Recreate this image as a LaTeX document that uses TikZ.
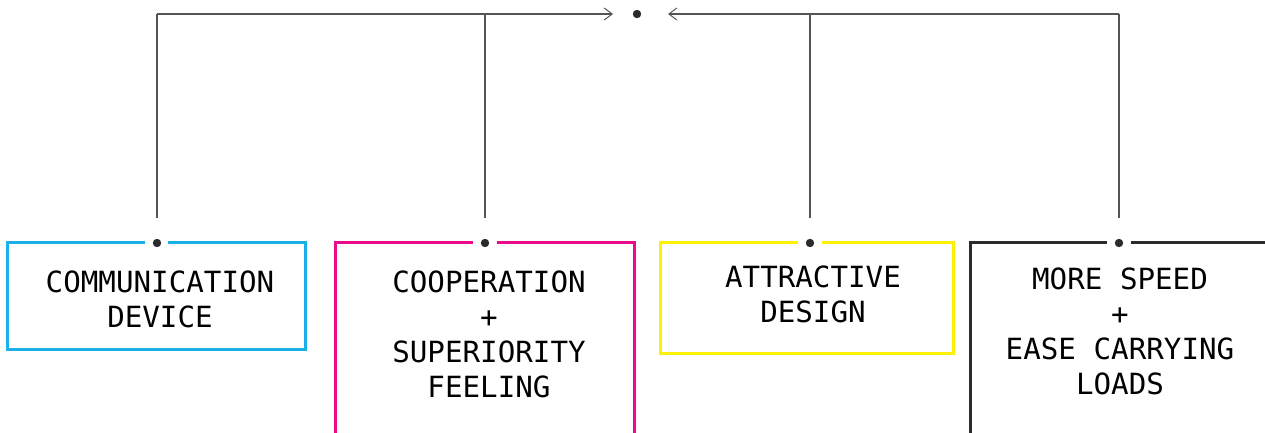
\documentclass[tikz,border=0pt]{standalone}
\usepackage{fontspec}
\newfontfamily\monof{DejaVu Sans Mono}
\usetikzlibrary{arrows.meta}
\definecolor{ccyan}{HTML}{1CB0EA}
\definecolor{cmag}{HTML}{EC0A8C}
\definecolor{cyel}{HTML}{FFF200}
\definecolor{cdark}{HTML}{2B2B2B}
\definecolor{cline}{HTML}{555555}
\tikzset{
  boxline/.style={line width=1.5pt},
  conn/.style={line width=0.55pt, draw=cline},
  arr/.style={conn, -{Straight Barb[length=4pt,width=6pt,line width=0.5pt]}},
  dotn/.style={circle, fill=cdark, inner sep=0pt, minimum size=4.2pt},
  lbl/.style={align=center, font=\monof\fontsize{14.6}{17.5}\selectfont, text=black, inner sep=0pt}
}
\begin{document}
\begin{tikzpicture}[x=0.5pt,y=-0.5pt]
\useasboundingbox (0,0) rectangle (1265,433);
\clip (0,0) rectangle (1265,433);
% boxes
\draw[boxline, ccyan] (145,243) -- (7,243) -- (7,349) -- (305,349) -- (305,243) -- (168,243);
\draw[boxline, cmag] (473,243) -- (335,243) -- (335,450);
\draw[boxline, cmag] (497,243) -- (634,243) -- (634,450);
\draw[boxline, cyel] (798,243) -- (660,243) -- (660,353) -- (953,353) -- (953,243) -- (822,243);
\draw[boxline, cdark] (1107,243) -- (970,243) -- (970,450);
\draw[boxline, cdark] (1131,243) -- (1275,243);
% dots
\node[dotn] (c) at (637,14) {};
\node[dotn] (d1) at (157,243) {};
\node[dotn] (d2) at (485,243) {};
\node[dotn] (d3) at (810,243) {};
\node[dotn] (d4) at (1119,243) {};
% connector coordinates
\coordinate (b1) at (157,218);
\coordinate (b2) at (485,218);
\coordinate (b3) at (810,218);
\coordinate (b4) at (1119,218);
\coordinate (u1) at (157,14);
\coordinate (u2) at (485,14);
\coordinate (u3) at (810,14);
\coordinate (u4) at (1119,14);
\coordinate (al) at (613,14);
\coordinate (ar) at (668,14);
\draw[conn] (b1) -- (u1);
\draw[conn] (b2) -- (u2);
\draw[conn] (b3) -- (u3);
\draw[conn] (b4) -- (u4);
\draw[arr] (u1) -- (al);
\draw[arr] (u4) -- (ar);
% labels
\node[lbl] (t1) at (160,299) {COMMUNICATION\\DEVICE};
\node[lbl] (t2) at (489,334) {COOPERATION\\+\\SUPERIORITY\\FEELING};
\node[lbl] (t3) at (813,294.5) {ATTRACTIVE\\DESIGN};
\node[lbl] (t4) at (1120,331) {MORE SPEED\\+\\EASE CARRYING\\LOADS};
\end{tikzpicture}
\end{document}
